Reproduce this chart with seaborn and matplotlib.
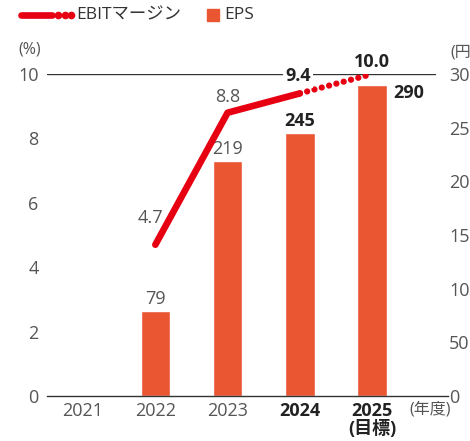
import pandas as pd
import seaborn as sns
import matplotlib.pyplot as plt
from matplotlib.lines import Line2D
from matplotlib.patches import Rectangle

# data
years = ['2021', '2022', '2023', '2024', '2025']
year_labels = ['2021', '2022', '2023', '2024', '2025\n(目標)']
eps_years = ['2022', '2023', '2024', '2025']
eps = [79, 219, 245, 290]
margin_years = ['2022', '2023', '2024', '2025']
margin = [4.7, 8.8, 9.4, 10.0]
left_ticks = [0, 2, 4, 6, 8, 10]
right_ticks = [0, 50, 100, 150, 200, 250, 300]

RED = '#e60012'
ORANGE = '#ea5532'
GRAY = '#555555'
DARK = '#222222'

sns.set_theme(style='white')
plt.rcParams['font.family'] = ['Open Sans', 'Noto Sans CJK JP', 'DejaVu Sans']

fig = plt.figure(figsize=(4.7, 4.41), dpi=100)
ax = fig.add_axes([0.1, 0.102, 0.853, 0.730])
ax2 = ax.twinx()

# EPS bars on the right axis
df = pd.DataFrame({'year': eps_years, 'eps': eps})
sns.barplot(data=df, x='year', y='eps', order=years, color=ORANGE,
            width=0.41, saturation=1, ax=ax2)

# EBIT margin line on the left axis (solid for actuals, dotted to target)
pos = [years.index(y) for y in margin_years]
sns.lineplot(x=pos[:3], y=margin[:3], color=RED, lw=4.8,
             solid_capstyle='round', solid_joinstyle='round', ax=ax)
sns.lineplot(x=pos[2:], y=margin[2:], color=RED, lw=4.5,
             linestyle=(0, (0.01, 1.2)), dash_capstyle='round', ax=ax)

ax.set_zorder(2)
ax2.set_zorder(1)
ax.patch.set_visible(False)

ax.set_xlim(-0.5, 5.05)
ax.set_ylim(0, 10)
ax2.set_ylim(0, 300)

ax.axhline(10, xmin=0, xmax=0.968, color='#333333', lw=1, zorder=0)
for s in ['top', 'left', 'right']:
    ax.spines[s].set_visible(False)
for s in ax2.spines.values():
    s.set_visible(False)
ax.spines['bottom'].set_color('#333333')
ax.spines['bottom'].set_linewidth(1)

ax.set_yticks(left_ticks)
ax.tick_params(axis='y', length=0, pad=6, labelsize=13, labelcolor=GRAY)
ax2.set_yticks(right_ticks)
ax2.tick_params(axis='y', length=0, pad=1, labelsize=13, labelcolor=GRAY)
ax.set_xticks(range(len(years)))
ax.set_xticklabels(year_labels)
ax.tick_params(axis='x', length=0, pad=4, labelsize=13, labelcolor=GRAY)
for t in ax.get_xticklabels()[3:]:
    t.set_fontweight('bold')
    t.set_color(DARK)
    t.set_linespacing(1.05)
ax.set_xlabel('')
ax.set_ylabel('')
ax2.set_xlabel('')
ax2.set_ylabel('')

# unit labels
ax.text(-0.042, 1.075, '(%)', transform=ax.transAxes, ha='center', va='center',
        fontsize=11.5, color=GRAY)
ax2.text(1.005, 1.068, '(円)', transform=ax.transAxes, ha='left', va='center',
         fontsize=11.5, color=GRAY)
ax.text(1.008, -0.043, '(年度)', transform=ax.transAxes, ha='right', va='center',
        fontsize=11.5, color=GRAY)

# margin value labels
m_off = [(-5, 27), (0, 16), (-2, 17), (0, 12)]
for i, (p, v) in enumerate(zip(pos, margin)):
    bold = i >= 2
    kw = dict(fontweight='bold', color=DARK) if bold else dict(color=GRAY)
    if i == 2:
        kw['bbox'] = dict(facecolor='white', edgecolor='none', pad=1.5)
    ax.annotate(f'{v:.1f}', xy=(p, v), xytext=m_off[i], textcoords='offset pixels',
                ha='center', va='center', fontsize=13, **kw)

# EPS value labels
e_pos = [years.index(y) for y in eps_years]
for i, (p, v) in enumerate(zip(e_pos, eps)):
    bold = i >= 2
    kw = dict(fontweight='bold', color=DARK) if bold else dict(color=GRAY)
    if i == 3:
        ax2.annotate(str(v), xy=(p + 0.205, v), xytext=(6, -8), textcoords='offset pixels',
                     ha='left', va='center', fontsize=13, **kw)
    else:
        ax2.annotate(str(v), xy=(p, v), xytext=(0, 12), textcoords='offset pixels',
                     ha='center', va='center', fontsize=13, **kw)

# legend drawn by hand
ly = 1 - 15 / 441
fig.add_artist(Line2D([21 / 470, 52 / 470], [ly, ly], transform=fig.transFigure,
                      color=RED, lw=4.8, solid_capstyle='round'))
fig.add_artist(Line2D([58 / 470, 64.5 / 470, 71 / 470], [ly, ly, ly],
                      transform=fig.transFigure, color=RED, ls='none',
                      marker='o', ms=5.5, mec='none'))
fig.text(76 / 470, ly, 'EBITマージン', ha='left', va='center', fontsize=12.5, color='#333333')
fig.add_artist(Rectangle((207 / 470, 1 - 21 / 441), 12 / 470, 12 / 441,
                         transform=fig.transFigure, color=ORANGE))
fig.text(224 / 470, ly, 'EPS', ha='left', va='center', fontsize=12.5, color='#333333')

fig.savefig('out.png', dpi=100)
